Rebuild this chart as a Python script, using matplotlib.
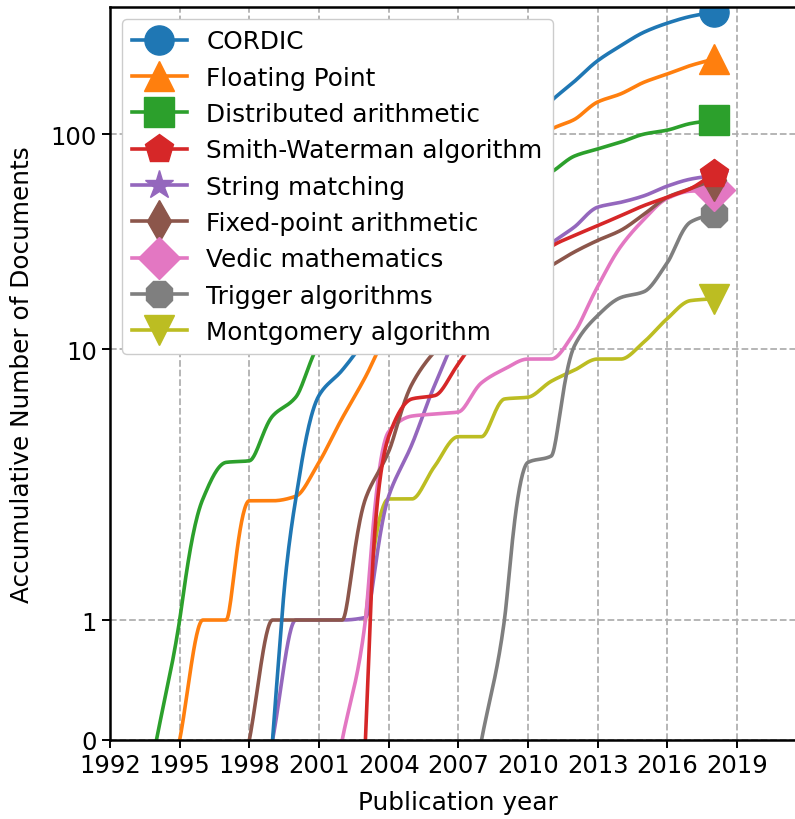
import numpy as np
import matplotlib
matplotlib.use("Agg")
import matplotlib.pyplot as plt

# cumulative number of documents per year, first value at the first year
names = ["CORDIC", "Floating Point", "Distributed arithmetic",
         "Smith-Waterman algorithm", "String matching", "Fixed-point arithmetic",
         "Vedic mathematics", "Trigger algorithms", "Montgomery algorithm"]
first_year = [1999, 1995, 1994, 2003, 1999, 1998, 2002, 2008, 2003]

cordic = [0, 2.64, 6.5, 8.2, 11.0, 16, 22, 30, 42, 58, 80, 110, 152, 197,
          262, 325, 397, 455, 505, 540]
floating = [0, 1.0, 1.0, 2.6, 2.6, 2.7, 3.6, 5.3, 7.7, 12, 17, 24, 33, 45,
            60, 80, 106, 120, 150, 167, 195, 218, 245, 268]
distributed = [0, 1.0, 2.64, 3.6, 3.65, 5.4, 6.4, 10.5, 14, 18, 22, 27, 32,
               38, 45, 51, 57, 63.5, 76.6, 83.4, 90.6, 100, 105, 114, 119]
smith = [0, 4.5, 6.3, 6.5, 8.7, 12, 16, 21, 27.8, 31.3, 34.8, 38.8, 43.4,
         47.6, 52.5, 62]
string = [0, 1.0, 1.0, 1.0, 1.02, 2.7, 4.2, 7.2, 11.5, 15, 19, 23.5, 28.8,
          34.3, 42.6, 45, 48.4, 54, 58.5, 61]
fixed = [0, 1.0, 1.0, 1.0, 1.0, 2.64, 3.95, 7.2, 9.8, 12, 14.5, 17, 20,
         22.8, 26.3, 29.7, 33.1, 39.4, 47.6, 52.5, 58]
vedic = [0, 1.0, 4.7, 5.4, 5.5, 5.6, 7.3, 8.3, 9.1, 9.1, 11.7, 18.4, 27.9,
         37.3, 47, 51, 51.5]
trigger = [0, 1.02, 3.6, 3.8, 10.3, 13.8, 16.5, 17.5, 23.5, 36.2, 39.6]
montgomery = [1.0, 2.64, 2.64, 3.5, 4.5, 4.5, 6.3, 6.4, 7.4, 8.2, 9.1,
              9.1, 10.7, 13.4, 16.0, 16.3]

series = [cordic, floating, distributed, smith, string, fixed, vedic,
          trigger, montgomery]
markers = ["o", "^", "s", "p", "*", "d", "D", "8", "v"]
colors = ["C%d" % i for i in range(9)]
zorders = [2.48, 2.46, 2.44, 2.42, 2.2, 2.38, 2.3, 2.1, 2.0]

year_ticks = list(range(1992, 2020, 3))
count_ticks = [0, 1, 10, 100]


def fwd(y):
    # linear below 1, compressed log above
    y = np.asarray(y, dtype=float)
    u = np.log10(np.clip(y, 1, 1e5))
    return np.where(y <= 1, 120 * y, 120 + 299 * u - 28 * u ** 2)


def inv(f):
    f = np.asarray(f, dtype=float)
    d = np.sqrt(np.clip(299 ** 2 - 112 * (f - 120), 0, None))
    return np.where(f <= 120, f / 120, 10 ** ((299 - d) / 56))


def smooth(x, y, n=30):
    # monotone cubic (Fritsch-Carlson) curve through the yearly values
    x = np.asarray(x, dtype=float)
    y = np.asarray(y, dtype=float)
    d = np.diff(y) / np.diff(x)
    m = np.zeros_like(y)
    m[0], m[-1] = d[0], d[-1]
    for k in range(1, len(y) - 1):
        if d[k - 1] * d[k] > 0:
            m[k] = 2 / (1 / d[k - 1] + 1 / d[k])
    t = np.linspace(0, 1, n, endpoint=False)
    xs, ys = [], []
    for i in range(len(x) - 1):
        h = x[i + 1] - x[i]
        h00 = 2 * t ** 3 - 3 * t ** 2 + 1
        h10 = t ** 3 - 2 * t ** 2 + t
        h01 = -2 * t ** 3 + 3 * t ** 2
        h11 = t ** 3 - t ** 2
        xs.append(x[i] + t * h)
        ys.append(h00 * y[i] + h10 * h * m[i] + h01 * y[i + 1] + h11 * h * m[i + 1])
    xs.append([x[-1]])
    ys.append([y[-1]])
    return np.concatenate(xs), np.concatenate(ys)


plt.rcParams["font.family"] = "DejaVu Sans"
fig = plt.figure(figsize=(7.95, 8.2), dpi=100)
ax = fig.add_axes([110 / 795, 79 / 820, 696.6 / 795, 733 / 820])
ax.set_yscale("function", functions=(fwd, inv))

handles = []
for name, start, vals, mk, col, z in zip(names, first_year, series, markers,
                                          colors, zorders):
    yrs = np.arange(start, start + len(vals))
    xs, ys = smooth(yrs, vals)
    line, = ax.plot(xs, ys, color=col, lw=2.6, marker=mk, markersize=21,
                    markevery=[-1], label=name, zorder=z)
    handles.append(line)

ax.set_xlim(1992, 2022)
ax.set_ylim(0, 586)
ax.set_xticks(year_ticks)
ax.set_xticklabels([str(v) for v in year_ticks])
ax.set_yticks(count_ticks)
ax.set_yticklabels([str(v) for v in count_ticks])
ax.minorticks_off()
ax.grid(True, color="#b0b0b0", linestyle="--", linewidth=1.3)
ax.tick_params(labelsize=17.5, length=6, width=1.4, direction="out")
for s in ax.spines.values():
    s.set_linewidth(1.8)
ax.spines["right"].set_visible(False)

ax.set_xlabel("Publication year", fontsize=17.8, labelpad=9)
ax.set_ylabel("Accumulative Number of Documents", fontsize=17.8, labelpad=12)

ax.legend(handles=handles, loc="upper left", fontsize=17.8,
          borderaxespad=0.5, handlelength=2.2, framealpha=1.0,
          edgecolor="#cccccc")

fig.savefig("out.png", dpi=100)
